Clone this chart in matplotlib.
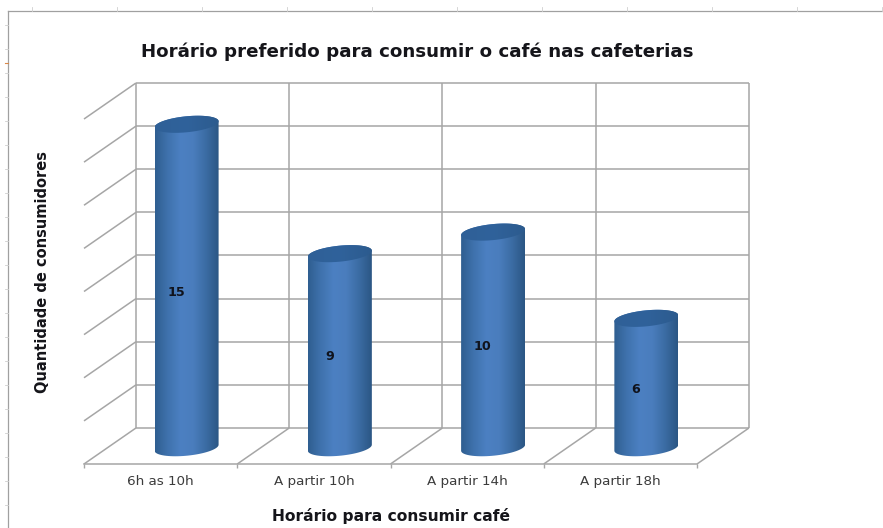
import numpy as np
import matplotlib
matplotlib.use('Agg')
import matplotlib.pyplot as plt
from matplotlib.colors import LinearSegmentedColormap
from matplotlib.lines import Line2D
from matplotlib.path import Path
from matplotlib.patches import PathPatch

categories = ['6h as 10h', 'A partir 10h', 'A partir 14h', 'A partir 18h']
consumers = [15, 9, 10, 6]
levels = list(range(0, 18, 2))

W, H = 883, 528
GRID = '#a6a6a6'

# Depth of the floor in data units (x categories, y consumers)
DX = 0.339
DY = 1.67

plt.rcParams['font.family'] = 'DejaVu Sans'

fig = plt.figure(figsize=(W / 100, H / 100), dpi=100)
ax = fig.add_axes([84 / W, 1 - 464 / H, 613 / W, 345 / H])
ax.set_xlim(0, 4)
ax.set_ylim(0, 16)
ax.patch.set_visible(False)


def project(x, y, depth):
    return x + depth * DX, y + depth * DY


def grid_line(x0, y0, x1, y1):
    ax.plot([x0, x1], [y0, y1], color=GRID, lw=1.1, solid_capstyle='butt',
            clip_on=False, zorder=1)


# Back wall, side wall and floor
for level in levels:
    bx, by = project(0, level, 1)
    ex, _ = project(4, level, 1)
    grid_line(bx, by, ex, by)
    if level > 0:
        grid_line(0, level, bx, by)
for i in range(5):
    bx, by = project(i, 0, 1)
    _, ty = project(i, 16, 1)
    grid_line(bx, by, bx, ty)
    grid_line(i, 0, bx, by)

# Cylinders stand halfway into the floor
side_cmap = LinearSegmentedColormap.from_list(
    'side', ['#2f5e90', '#3f72ad', '#4c80c2', '#4a7dbd', '#3b6ca3', '#2b5684'])
top_cmap = LinearSegmentedColormap.from_list(
    'top', ['#2f6097', '#30629b', '#2c5b8e'])
half_w = 32 / 153.3
half_h = 8 / 21.55
tilt = 3 / 21.55
theta = np.linspace(0, 2 * np.pi, 121)


def rim(cx, cy, t):
    return cx + half_w * np.cos(t), cy + half_h * np.sin(t) + tilt * np.cos(t)


def shade(path, cmap, x0, x1, y0, y1, z):
    img = ax.imshow(np.linspace(0, 1, 256).reshape(1, -1), cmap=cmap, aspect='auto',
                    extent=[x0, x1, y0, y1], zorder=z)
    patch = PathPatch(path, transform=ax.transData, fc='none', ec='none')
    ax.add_patch(patch)
    patch.set_clip_on(False)
    img.set_clip_box(fig.bbox)
    img.set_clip_path(patch)


for i, value in enumerate(consumers):
    cx, base = project(i + 0.5, -0.08, 0.5)
    top = base + value

    # body outline: top edge from the left, then around the lower rim
    xt, yt = rim(cx, top, np.linspace(np.pi, 0, 40))
    xb, yb = rim(cx, base, np.linspace(0, -np.pi, 40))
    body = Path(np.column_stack([np.r_[xt, xb, xt[0]], np.r_[yt, yb, yt[0]]]))
    shade(body, side_cmap, cx - half_w, cx + half_w, base - 1, top + 1, 3)

    xc, yc = rim(cx, top, theta)
    cap = Path(np.column_stack([xc, yc]))
    shade(cap, top_cmap, cx - half_w, cx + half_w, top - 1, top + 1, 4)

    ax.annotate(str(value), (cx, base + value / 2), xytext=(-7.5, -4.5), textcoords='offset points',
                ha='center', va='center', fontsize=9.2, fontweight='bold', color='#10131c', zorder=5)

ax.set_xlim(0, 4)
ax.set_ylim(0, 16)

# Front edge with ticks, labels sit between them
for side in ['top', 'right', 'left']:
    ax.spines[side].set_visible(False)
ax.spines['bottom'].set_color(GRID)
ax.spines['bottom'].set_linewidth(1.1)
ax.set_yticks([])
ax.set_xticks(range(5))
ax.set_xticklabels([])
ax.tick_params(axis='x', which='major', length=3, width=1, color=GRID)
ax.set_xticks(np.arange(4) + 0.5, minor=True)
ax.set_xticklabels(categories, minor=True, fontsize=9.7, color='#3c3c3c')
ax.tick_params(axis='x', which='minor', length=0, pad=8)

fig.text(417.5 / W, 1 - 52 / H, 'Horário preferido para consumir o café nas cafeterias',
         ha='center', va='center', fontsize=13.15, fontweight='bold', color='#15151a')
fig.text(391 / W, 1 - 516 / H, 'Horário para consumir café',
         ha='center', va='center', fontsize=11.2, fontweight='bold', color='#15151a')
fig.text(43 / W, 1 - 272 / H, 'Quantidade de consumidores', rotation=90,
         ha='center', va='center', fontsize=10.5, fontweight='bold', color='#15151a')


# Sheet ruler along the top and left of the frame
def frame_line(x0, y0, x1, y1, color='#a0a0a0', lw=0.9):
    fig.add_artist(Line2D([x0 / W, x1 / W], [1 - y0 / H, 1 - y1 / H], color=color, lw=lw))


frame_line(8, 11, W, 11)
frame_line(8, 11, 8, H)
for x in range(32, W, 85):
    frame_line(x, 7, x, 11, color='#cfcfcf', lw=0.6)
for y in range(25, H, 24):
    frame_line(5, y, 8, y, color='#cfcfcf', lw=0.6)
frame_line(5, 63, 8, 63, color='#d9884a', lw=0.8)

fig.savefig('out.png', dpi=100)
